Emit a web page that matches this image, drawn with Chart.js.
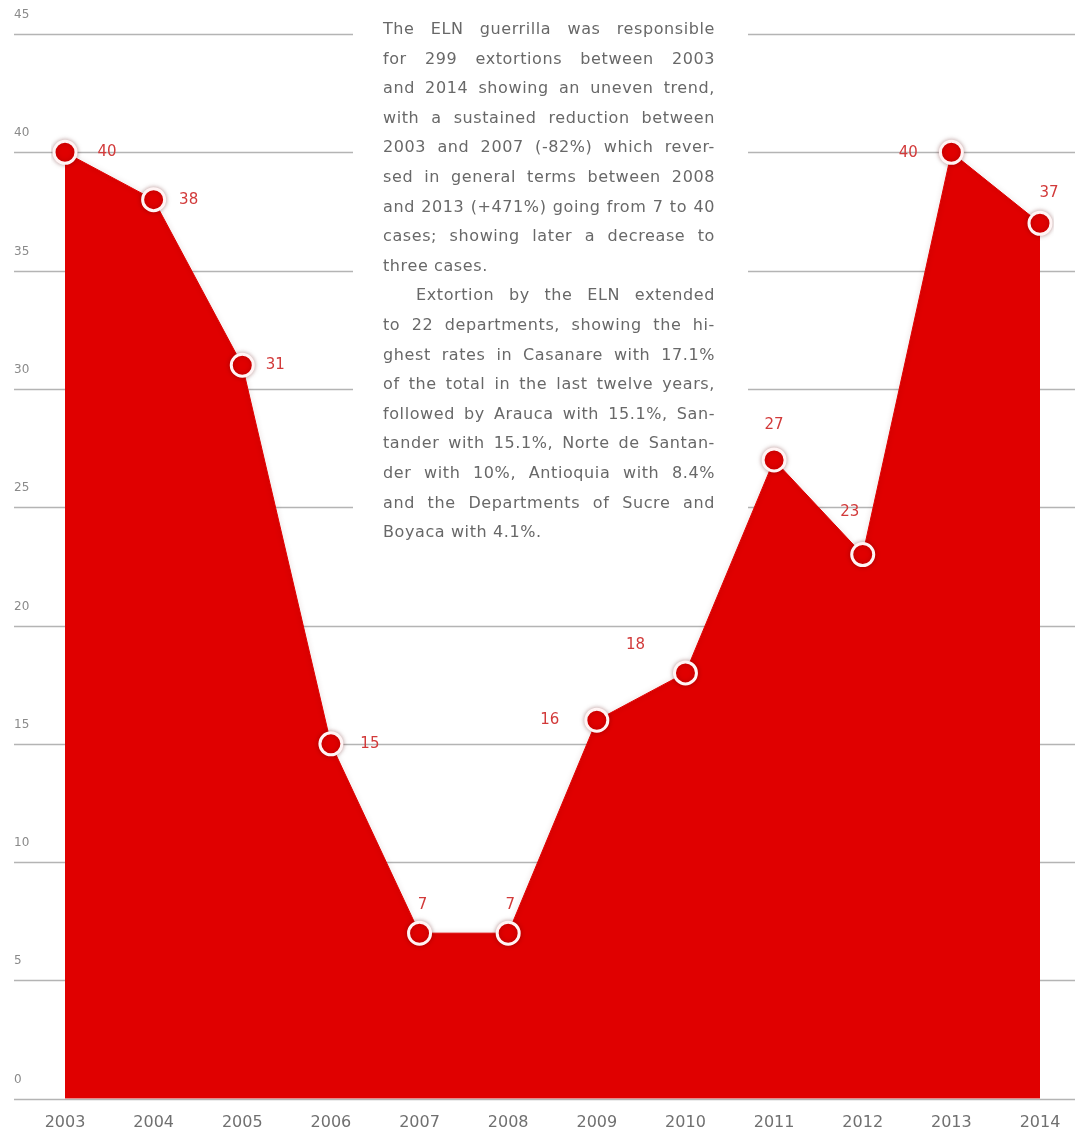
<!DOCTYPE html>
<html>
<head>
<meta charset="utf-8">
<title>ELN extortions 2003-2014</title>
<script src="https://cdn.jsdelivr.net/npm/chart.js@4/dist/chart.umd.min.js"></script>
<style>
  body { margin: 0; background: #fff; }
  #wrap { position: relative; width: 1079px; height: 1136px; }
  #note {
    position: absolute; left: 383px; top: 14px; width: 332px;
    font-family: "DejaVu Sans", sans-serif; font-size: 16px;
    letter-spacing: 0.6px; line-height: 29.6px; color: #686868;
  }
  #note div { text-align: justify; text-align-last: justify; }
  #note div.end { text-align-last: left; }
  #note div.ind { padding-left: 33px; }
</style>
</head>
<body>
<div id="wrap">
  <canvas id="chart"></canvas>
  <div id="note">
    <div>The ELN guerrilla was responsible</div>
    <div>for 299 extortions between 2003</div>
    <div>and 2014 showing an uneven trend,</div>
    <div>with a sustained reduction between</div>
    <div>2003 and 2007 (-82%) which rever-</div>
    <div>sed in general terms between 2008</div>
    <div>and 2013 (+471%) going from 7 to 40</div>
    <div>cases; showing later a decrease to</div>
    <div class="end">three cases.</div>
    <div class="ind">Extortion by the ELN extended</div>
    <div>to 22 departments, showing the hi-</div>
    <div>ghest rates in Casanare with 17.1%</div>
    <div>of the total in the last twelve years,</div>
    <div>followed by Arauca with 15.1%, San-</div>
    <div>tander with 15.1%, Norte de Santan-</div>
    <div>der with 10%, Antioquia with 8.4%</div>
    <div>and the Departments of Sucre and</div>
    <div class="end">Boyaca with 4.1%.</div>
  </div>
</div>
<script>
// data
const years = ['2003', '2004', '2005', '2006', '2007', '2008', '2009', '2010', '2011', '2012', '2013', '2014'];
const extortions = [40, 38, 31, 15, 7, 7, 16, 18, 27, 23, 40, 37];
const yTicks = [0, 5, 10, 15, 20, 25, 30, 35, 40, 45];

const red = '#e00000';

// where each value label sits around its point (dx, dy)
const labelShift = [
  [42, 0], [35, 0], [33, 0], [39, 0], [3, -28], [2, -28],
  [-47, 0], [-50, -28], [0, -35], [-13, -42], [-43, 1], [9, -30]
];

// gridlines, broken where the text block sits
const backdrop = {
  id: 'backdrop',
  beforeDatasetsDraw(chart) {
    const ctx = chart.ctx;
    const y = chart.scales.y;
    ctx.save();
    ctx.strokeStyle = '#b4b4b4';
    ctx.lineWidth = 1.5;
    ctx.font = '12px "DejaVu Sans"';
    ctx.fillStyle = '#8a8a8a';
    ctx.textAlign = 'left';
    ctx.textBaseline = 'middle';
    yTicks.forEach(v => {
      const py = Math.round(y.getPixelForValue(v)) + 0.5;
      ctx.beginPath();
      if (py < 560) {
        ctx.moveTo(14, py); ctx.lineTo(353, py);
        ctx.moveTo(748, py); ctx.lineTo(1075, py);
      } else {
        ctx.moveTo(14, py); ctx.lineTo(1075, py);
      }
      ctx.stroke();
      ctx.fillText(String(v), 14, py - 20);
    });
    ctx.restore();
  },
  beforeDatasetDraw(chart) {
    chart.ctx.save();
    chart.ctx.shadowColor = 'rgba(90,0,0,0.35)';
    chart.ctx.shadowBlur = 5;
  },
  afterDatasetDraw(chart) {
    chart.ctx.restore();
  },
  afterDatasetsDraw(chart) {
    const ctx = chart.ctx;
    const pts = chart.getDatasetMeta(0).data;
    ctx.save();
    ctx.font = '15px "DejaVu Sans"';
    ctx.fillStyle = '#d23a3a';
    ctx.textAlign = 'center';
    ctx.textBaseline = 'middle';
    pts.forEach((p, i) => {
      const s = labelShift[i];
      ctx.fillText(String(extortions[i]), p.x + s[0], p.y + s[1]);
    });
    ctx.restore();
  }
};

new Chart(document.getElementById('chart'), {
  type: 'line',
  data: {
    labels: years,
    datasets: [{
      data: extortions,
      fill: 'origin',
      backgroundColor: red,
      borderColor: red,
      borderWidth: 1,
      tension: 0,
      pointRadius: 11,
      pointHoverRadius: 11,
      pointBorderWidth: 3,
      pointBackgroundColor: red,
      pointBorderColor: '#fff4f4'
    }]
  },
  options: {
    responsive: true,
    maintainAspectRatio: false,
    animation: false,
    events: [],
    layout: { padding: { left: 65, right: 39, top: 34, bottom: -10 } },
    plugins: { legend: { display: false }, tooltip: { enabled: false } },
    scales: {
      x: {
        grid: { display: false, drawTicks: false },
        border: { display: false },
        ticks: {
          padding: 14,
          color: '#707070',
          font: { family: 'DejaVu Sans', size: 16 }
        }
      },
      y: { display: false, min: 0, max: 45 }
    }
  },
  plugins: [backdrop]
});
</script>
</body>
</html>
